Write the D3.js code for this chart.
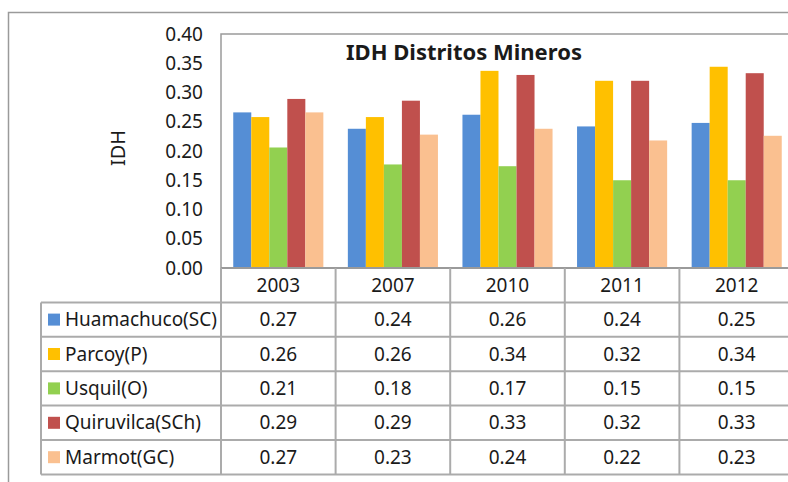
<!DOCTYPE html>
<html>
<head>
<meta charset="utf-8">
<script src="https://cdn.jsdelivr.net/npm/d3@7"></script>
<style>
  body { margin: 0; background: #fff; }
  svg text { font-family: "Noto Sans", "Open Sans", sans-serif; fill: #1a1a1a; }
</style>
</head>
<body>
<svg width="788" height="482"></svg>
<script>
// data
const years = ["2003", "2007", "2010", "2011", "2012"];
const series = ["Huamachuco(SC)", "Parcoy(P)", "Usquil(O)", "Quiruvilca(SCh)", "Marmot(GC)"];
const colors = ["#558ed5", "#ffc000", "#92d050", "#c0504d", "#fac090"];

const huamachuco = [0.266, 0.238, 0.262, 0.242, 0.248];
const parcoy     = [0.258, 0.258, 0.337, 0.320, 0.344];
const usquil     = [0.206, 0.177, 0.174, 0.150, 0.150];
const quiruvilca = [0.289, 0.286, 0.330, 0.320, 0.333];
const marmot     = [0.266, 0.228, 0.238, 0.218, 0.226];
const values = [huamachuco, parcoy, usquil, quiruvilca, marmot];

const yTicks = [0, 0.05, 0.10, 0.15, 0.20, 0.25, 0.30, 0.35, 0.40];

var svg = d3.select("svg");

var plotLeft = 221, plotRight = 794, plotTop = 34, plotBottom = 268;
var rowH = 34.4;
var legendLeft = 41;
var fs = "19px";

var x = d3.scaleBand().domain(years).range([plotLeft, plotRight]);
var x1 = d3.scaleBand().domain(series).range([0, x.bandwidth()]).paddingOuter(0.68);
var y = d3.scaleLinear().domain([0, 0.4]).range([plotBottom, plotTop]);

// outer chart frame
svg.append("rect")
  .attr("x", 8.5).attr("y", 12.5)
  .attr("width", 800).attr("height", 500)
  .attr("fill", "none").attr("stroke", "#9a9a9a").attr("stroke-width", 1.5);

// plot area border
svg.append("rect")
  .attr("x", plotLeft).attr("y", plotTop)
  .attr("width", plotRight - plotLeft).attr("height", plotBottom - plotTop)
  .attr("fill", "none").attr("stroke", "#9a9a9a").attr("stroke-width", 1.5);

// bars
var groups = svg.append("g").selectAll("g")
  .data(series)
  .enter().append("g")
  .attr("fill", (d, i) => colors[i]);

groups.selectAll("rect")
  .data((s, i) => values[i].map((v, j) => ({ s: s, year: years[j], v: v })))
  .enter().append("rect")
  .attr("x", d => x(d.year) + x1(d.s))
  .attr("y", d => y(d.v))
  .attr("width", x1.bandwidth())
  .attr("height", d => y(0) - y(d.v));

// y axis labels
var yAxis = d3.axisLeft(y).tickValues(yTicks).tickFormat(d3.format(".2f")).tickSize(0).tickPadding(18);
var yg = svg.append("g").attr("transform", "translate(" + plotLeft + ",0)").call(yAxis);
yg.select(".domain").remove();
yg.selectAll("text")
  .style("font-family", "'Noto Sans', sans-serif")
  .style("font-size", fs)
  .attr("fill", "#1a1a1a");

// axis title
svg.append("text")
  .attr("transform", "translate(125,148) rotate(-90)")
  .attr("text-anchor", "middle")
  .style("font-size", "20px")
  .text("IDH");

// chart title
svg.append("text")
  .attr("x", 464).attr("y", 60)
  .attr("text-anchor", "middle")
  .style("font-size", "22px")
  .style("font-weight", "bold")
  .text("IDH Distritos Mineros");

// data table grid
var grid = svg.append("g").attr("stroke", "#ababab").attr("stroke-width", 2);
var tableBottom = plotBottom + rowH * (series.length + 1);

grid.append("line")
  .attr("x1", plotLeft).attr("x2", plotRight)
  .attr("y1", plotBottom).attr("y2", plotBottom)
  .attr("stroke", "#9a9a9a");

d3.range(1, series.length + 2).forEach(function(r) {
  grid.append("line")
    .attr("x1", legendLeft).attr("x2", plotRight)
    .attr("y1", plotBottom + r * rowH).attr("y2", plotBottom + r * rowH);
});

grid.append("line")
  .attr("x1", legendLeft).attr("x2", legendLeft)
  .attr("y1", plotBottom + rowH).attr("y2", tableBottom);

grid.selectAll("line.col")
  .data(years)
  .enter().append("line")
  .attr("class", "col")
  .attr("x1", d => x(d)).attr("x2", d => x(d))
  .attr("y1", plotBottom)
  .attr("y2", tableBottom);

// header row: years
svg.append("g").selectAll("text")
  .data(years)
  .enter().append("text")
  .attr("x", d => x(d) + x.bandwidth() / 2)
  .attr("y", plotBottom + rowH / 2)
  .attr("dy", "0.35em")
  .attr("text-anchor", "middle")
  .style("font-size", fs)
  .text(d => d);

// legend keys and names
var rows = svg.append("g").selectAll("g")
  .data(series)
  .enter().append("g")
  .attr("transform", (d, i) => "translate(0," + (plotBottom + rowH * (i + 1)) + ")");

rows.append("rect")
  .attr("x", 48).attr("y", rowH / 2 - 6)
  .attr("width", 12).attr("height", 12)
  .attr("fill", (d, i) => colors[i]);

rows.append("text")
  .attr("x", 65).attr("y", rowH / 2)
  .attr("dy", "0.35em")
  .style("font-size", fs)
  .text(d => d);

// table values
rows.each(function(s, i) {
  d3.select(this).selectAll("text.val")
    .data(values[i])
    .enter().append("text")
    .attr("class", "val")
    .attr("x", (v, j) => x(years[j]) + x.bandwidth() / 2)
    .attr("y", rowH / 2)
    .attr("dy", "0.35em")
    .attr("text-anchor", "middle")
    .style("font-size", fs)
    .text(v => d3.format(".2f")(v));
});
</script>
</body>
</html>
